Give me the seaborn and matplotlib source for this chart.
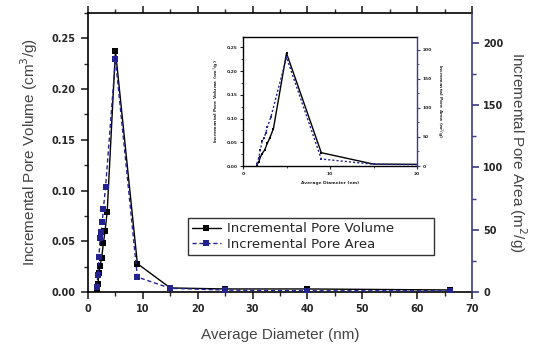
import matplotlib
matplotlib.use("Agg")
import matplotlib.pyplot as plt
import seaborn as sns
import numpy as np
from matplotlib.lines import Line2D
from matplotlib.ticker import MultipleLocator

# ---- data ----
diam_vol = [1.6, 1.8, 2.0, 2.2, 2.5, 2.8, 3.1, 3.5, 5.0, 9.0, 15, 25, 40, 66]
pore_vol = [0.003, 0.008, 0.019, 0.026, 0.034, 0.048, 0.060, 0.079, 0.238, 0.028, 0.004, 0.003, 0.003, 0.002]
diam_area = [1.6, 1.8, 2.0, 2.2, 2.4, 2.6, 2.8, 3.2, 5.0, 9.0, 15, 25, 40, 66]
pore_area = [4, 14, 28, 43, 48, 56, 67, 84, 187, 12, 3, 1.5, 1, 1]

x_ticks = [0, 10, 20, 30, 40, 50, 60, 70]
vol_ticks = [0.00, 0.05, 0.10, 0.15, 0.20, 0.25]
area_ticks = [0, 50, 100, 150, 200]
inset_x_ticks = [0, 10, 20]

label_vol = "Incremental Pore Volume"
label_area = "Incremental Pore Area"

NAVY = "#23238f"
SPINE_NAVY = "#3b3b80"

sns.set_style("ticks")
plt.rcParams["font.family"] = ["DejaVu Sans"]

fig = plt.figure(figsize=(5.34, 3.44), dpi=100)
W, H = 534, 344

def rect(x0, y0, x1, y1):
    return [x0 / W, 1 - y1 / H, (x1 - x0) / W, (y1 - y0) / H]

ax = fig.add_axes(rect(88, 13, 472, 292))
ax2 = ax.twinx()

sns.lineplot(x=diam_vol, y=pore_vol, ax=ax, color="black", marker="s",
             markersize=4.5, markeredgewidth=0, linewidth=1.0, sort=False)
sns.lineplot(x=diam_area, y=pore_area, ax=ax2, color=NAVY, marker="s",
             markersize=4.5, markeredgewidth=0, linewidth=1.0, sort=False,
             linestyle=(0, (3, 2)))

ax.set_xlim(0, 70)
ax.set_ylim(0, 0.275)
ax2.set_ylim(0, 224)

tick_font = dict(fontsize=7, fontweight="bold", family="DejaVu Sans")
ax.set_xticks(x_ticks)
ax.set_xticklabels([str(t) for t in x_ticks], **tick_font)
ax.set_yticks(vol_ticks)
ax.set_yticklabels([f"{t:.2f}" for t in vol_ticks], **tick_font)
ax2.set_yticks(area_ticks)
ax2.set_yticklabels([str(t) for t in area_ticks], **tick_font)
ax.xaxis.set_minor_locator(MultipleLocator(5))
ax.yaxis.set_minor_locator(MultipleLocator(0.025))
ax2.yaxis.set_minor_locator(MultipleLocator(25))

ax.tick_params(axis="both", which="major", direction="out", length=5, width=1.2, pad=4,
               top=True, labeltop=False)
ax.tick_params(axis="both", which="minor", direction="out", length=3, width=1.0, top=True)
ax2.tick_params(axis="y", which="major", direction="out", length=5, width=1.2, pad=3,
                color=SPINE_NAVY)
ax2.tick_params(axis="y", which="minor", direction="out", length=3, width=1.0,
                color=SPINE_NAVY)

for s in ["left", "bottom", "top"]:
    ax.spines[s].set_visible(True)
    ax.spines[s].set_linewidth(1.2)
    ax.spines[s].set_color("black")
ax.spines["right"].set_visible(False)
for s in ["left", "bottom", "top"]:
    ax2.spines[s].set_visible(False)
ax2.spines["right"].set_visible(True)
ax2.spines["right"].set_color(SPINE_NAVY)
ax2.spines["right"].set_linewidth(1.2)

lab_font = dict(fontsize=11, family="Liberation Sans", color="#444444")
ax.set_xlabel("Average Diameter (nm)", labelpad=10, **lab_font)
ax.set_ylabel("Incremental Pore Volume (cm$^3$/g)", labelpad=8, **lab_font)
ax2.set_ylabel("Incremental Pore Area (m$^2$/g)", rotation=-90, labelpad=18, **lab_font)

handles = [
    Line2D([], [], color="black", marker="s", markersize=4.5, markeredgewidth=0,
           linewidth=1.0),
    Line2D([], [], color=NAVY, marker="s", markersize=4.5, markeredgewidth=0,
           linewidth=1.0, linestyle=(0, (3, 2))),
]
leg = ax.legend(handles, [label_vol, label_area], loc="lower left",
                bbox_to_anchor=(0.26, 0.133, 0.641, 0.15), mode="expand",
                frameon=True, fancybox=False, edgecolor="black",
                prop=dict(family="DejaVu Sans", size=9.5), handlelength=2.2,
                handletextpad=0.5, borderpad=0.3, labelspacing=0.2,
                borderaxespad=0)
leg.get_frame().set_linewidth(1.0)
leg.set_zorder(10)

# ---- inset ----
ia = fig.add_axes(rect(243, 37, 417, 166))
ia2 = ia.twinx()
sns.lineplot(x=diam_vol, y=pore_vol, ax=ia, color="black", marker="s",
             markersize=2, markeredgewidth=0, linewidth=1.0, sort=False)
sns.lineplot(x=diam_area, y=pore_area, ax=ia2, color=NAVY, marker="s",
             markersize=2, markeredgewidth=0, linewidth=1.0, sort=False,
             linestyle=(0, (1.5, 1.5)))
ia.set_xlim(0, 20)
ia.set_ylim(0, 0.272)
ia2.set_ylim(0, 222)
small = dict(fontsize=3.2, fontweight="bold", family="DejaVu Sans")
ia.set_xticks(inset_x_ticks)
ia.set_xticklabels([str(t) for t in inset_x_ticks], **small)
ia.set_yticks(vol_ticks)
ia.set_yticklabels([f"{t:.2f}" for t in vol_ticks], **small)
ia2.set_yticks(area_ticks)
ia2.set_yticklabels([str(t) for t in area_ticks], **small)
ia.xaxis.set_minor_locator(MultipleLocator(5))
ia.yaxis.set_minor_locator(MultipleLocator(0.025))
ia2.yaxis.set_minor_locator(MultipleLocator(25))
ia.tick_params(which="major", direction="out", length=2.5, width=0.8, pad=1.5)
ia.tick_params(which="minor", direction="out", length=1.5, width=0.6)
ia2.tick_params(which="major", direction="out", length=2.5, width=0.8, pad=1.5,
                color=SPINE_NAVY)
ia2.tick_params(which="minor", direction="out", length=1.5, width=0.6,
                color=SPINE_NAVY)
for s in ["left", "bottom", "top"]:
    ia.spines[s].set_linewidth(1.0)
    ia.spines[s].set_color("black")
ia.spines["right"].set_visible(False)
for s in ["left", "bottom", "top"]:
    ia2.spines[s].set_visible(False)
ia2.spines["right"].set_color(SPINE_NAVY)
ia2.spines["right"].set_linewidth(1.0)
ia.set_xlabel("Average Diameter (nm)", labelpad=4, **small)
ia.set_ylabel("Incremental Pore Volume (cm$^3$/g)", labelpad=3, **small)
ia2.set_ylabel("Incremental Pore Area (m$^2$/g)", rotation=-90, labelpad=9, **small)

fig.savefig("out.png", dpi=100)
